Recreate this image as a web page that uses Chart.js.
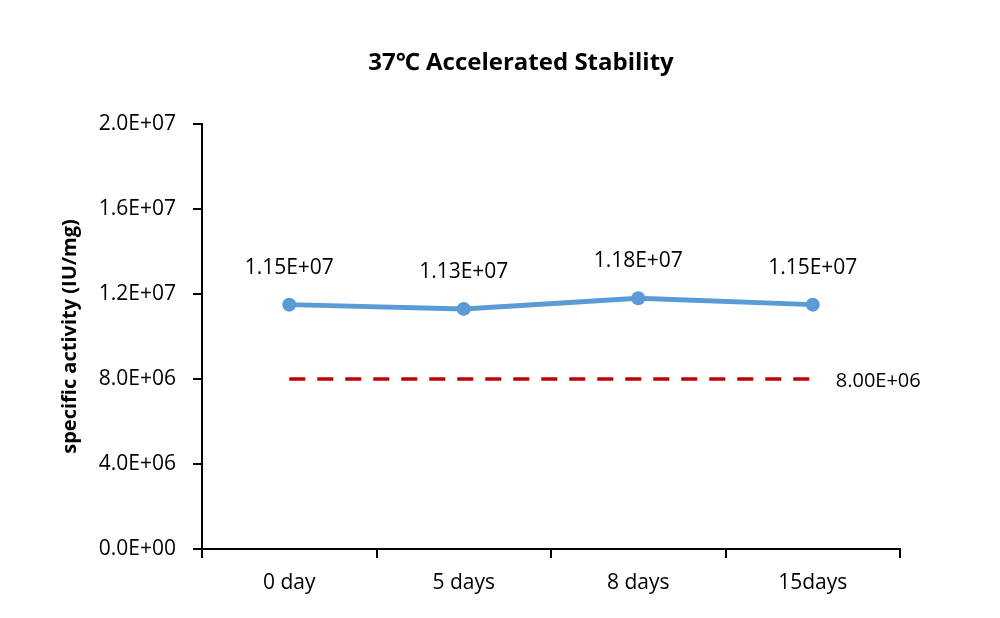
<!DOCTYPE html>
<html>
<head>
<meta charset="utf-8">
<script src="https://cdn.jsdelivr.net/npm/chart.js@4"></script>
<style>
  html, body { margin: 0; padding: 0; background: #fff; }
  #wrap { width: 1000px; height: 618px; position: relative; }
</style>
</head>
<body>
<div id="wrap"><canvas id="chart" width="1000" height="618"></canvas></div>
<script>
const chartTitle = "37\u2103 Accelerated Stability";
const yAxisTitle = "specific activity (IU/mg)";
const categories = ["0 day", "5 days", "8 days", "15days"];
const activity = [1.15e7, 1.13e7, 1.18e7, 1.15e7];
const activityLabels = ["1.15E+07", "1.13E+07", "1.18E+07", "1.15E+07"];
const limitValue = 8.0e6;
const limitLabel = "8.00E+06";
const limit = categories.map(() => limitValue);
const yTickLabels = ["0.0E+00", "4.0E+06", "8.0E+06", "1.2E+07", "1.6E+07", "2.0E+07"];

const FONT = "'Open Sans', 'Noto Sans', sans-serif";

// title, point labels and limit label
const textPlugin = {
  id: "textPlugin",
  afterDatasetsDraw(chart) {
    const ctx = chart.ctx;
    ctx.save();
    ctx.fillStyle = "#000";
    ctx.textAlign = "center";
    ctx.textBaseline = "middle";
    ctx.font = "bold 24px " + FONT;
    ctx.fillText(chartTitle, 521, 63);

    ctx.font = "21px " + FONT;
    const pts = chart.getDatasetMeta(0).data;
    pts.forEach((p, i) => {
      ctx.fillText(activityLabels[i], p.x, p.y - 37);
    });

    const lim = chart.getDatasetMeta(1).data;
    const last = lim[lim.length - 1];
    ctx.textAlign = "left";
    ctx.font = "20px " + FONT;
    ctx.fillText(limitLabel, last.x + 23, last.y + 2);
    ctx.restore();
  }
};

new Chart(document.getElementById("chart"), {
  type: "line",
  data: {
    labels: categories,
    datasets: [
      {
        data: activity,
        borderColor: "#5B9BD5",
        backgroundColor: "#5B9BD5",
        borderWidth: 5,
        pointRadius: 7,
        pointBorderWidth: 0,
        tension: 0,
      },
      {
        data: limit,
        borderColor: "#C00000",
        borderWidth: 3.5,
        borderDash: [16, 12],
        pointRadius: 0,
        tension: 0,
      },
    ],
  },
  plugins: [textPlugin],
  options: {
    responsive: false,
    animation: false,
    layout: { padding: { top: 124, right: 100, left: 0, bottom: 0 } },
    plugins: {
      legend: { display: false },
      tooltip: { enabled: false },
      title: { display: false },
    },
    scales: {
      x: {
        offset: true,
        grid: {
          offset: true,
          drawOnChartArea: false,
          color: "#000",
          lineWidth: 2,
          tickLength: 9,
        },
        border: { color: "#000", width: 2 },
        ticks: {
          color: "#000",
          font: { family: FONT, size: 21 },
          padding: 12,
        },
        afterFit: (scale) => { scale.height = 69; },
      },
      y: {
        min: 0,
        max: 2.0e7,
        grid: {
          drawOnChartArea: false,
          color: "#000",
          lineWidth: 2,
          tickLength: 9,
        },
        border: { color: "#000", width: 2 },
        ticks: {
          stepSize: 4.0e6,
          color: "#000",
          padding: 17,
          font: { family: FONT, size: 21 },
          callback: (value, i) => yTickLabels[i],
        },
        title: {
          display: true,
          text: yAxisTitle,
          color: "#000",
          font: { family: FONT, size: 20, weight: "bold" },
          padding: { top: 58, bottom: 0 },
        },
        afterFit: (scale) => { scale.width = 202; },
      },
    },
  },
});
</script>
</body>
</html>
